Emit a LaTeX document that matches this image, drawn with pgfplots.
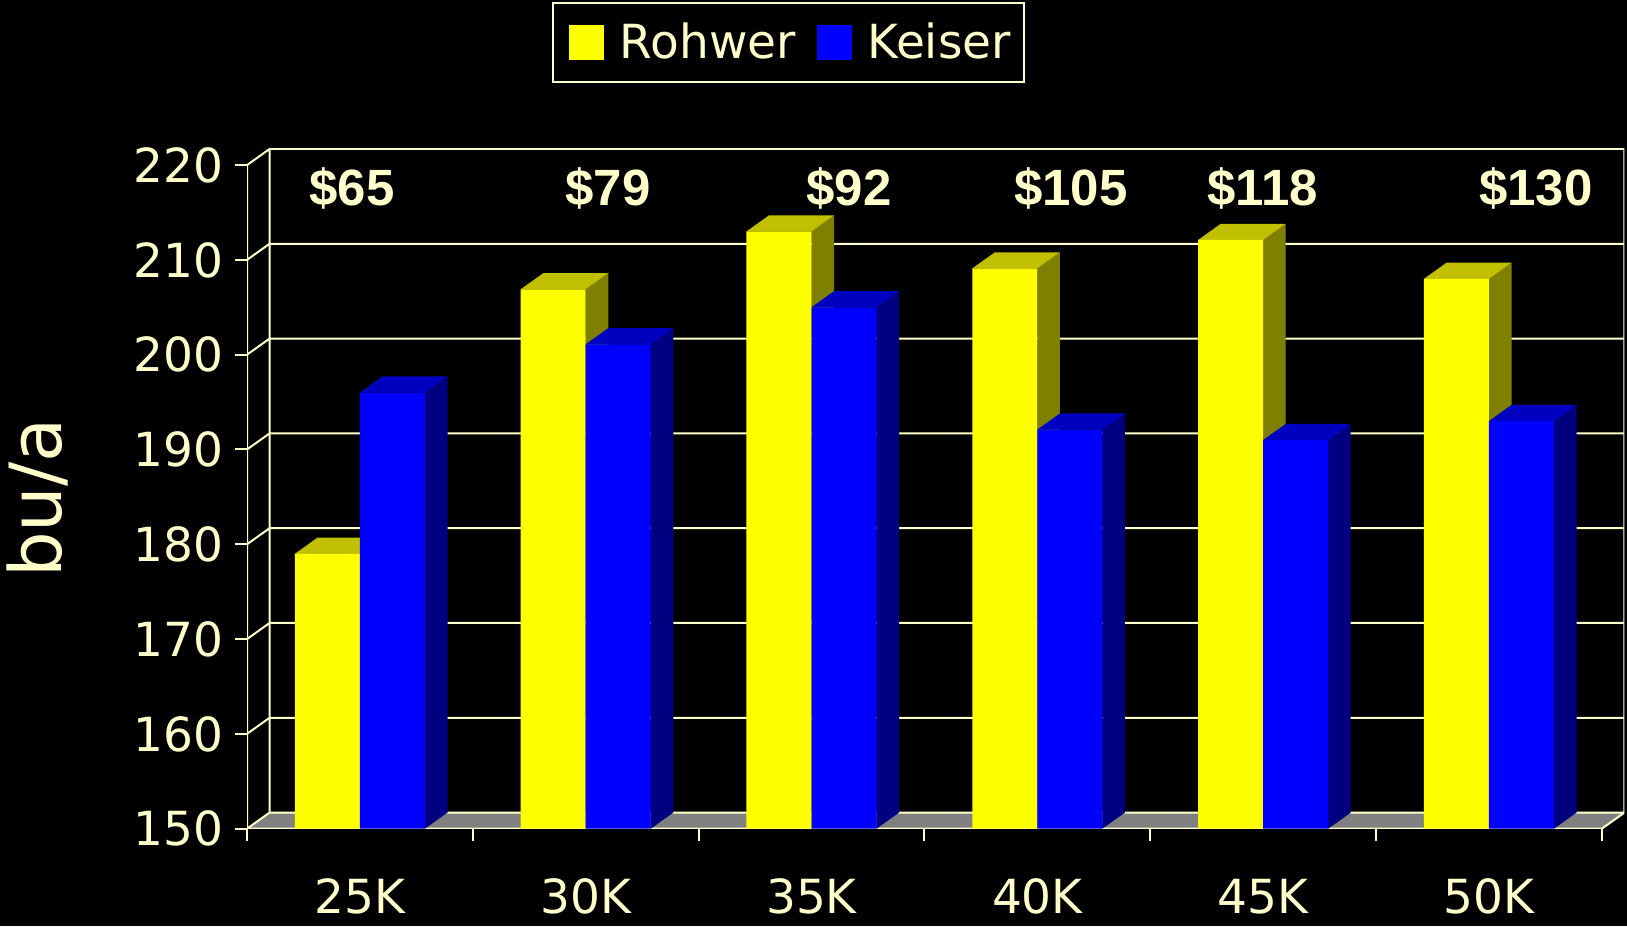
\documentclass[border=0pt]{standalone}
\usepackage{fontspec}
\setmainfont{DejaVu Sans}
\newfontfamily\arialfont{Liberation Sans}
\usepackage{pgfplots}
\usepackage{pgfplotstable}
\pgfplotsset{compat=1.18}

\definecolor{cream}{HTML}{FFFFCC}
\definecolor{yfront}{HTML}{FFFF00}
\definecolor{ytop}{HTML}{C0C000}
\definecolor{yside}{HTML}{808000}
\definecolor{bfront}{HTML}{0000FF}
\definecolor{btop}{HTML}{0000C0}
\definecolor{bside}{HTML}{000080}
\definecolor{floorgray}{HTML}{808080}

% 3D faces of a bar (bar width 0.288 x-units = 32.52pt, depth 0.1 x-units = 11.29pt, 1.7 y-units = 8.06pt)
\pgfdeclareplotmark{topface}{%
  \pgfpathmoveto{\pgfpoint{-16.26pt}{0pt}}%
  \pgfpathlineto{\pgfpoint{-4.97pt}{8.06pt}}%
  \pgfpathlineto{\pgfpoint{27.55pt}{8.06pt}}%
  \pgfpathlineto{\pgfpoint{16.26pt}{0pt}}%
  \pgfpathclose\pgfusepathqfill}
\pgfdeclareplotmark{sideface}{%
  \pgfpathmoveto{\pgfpoint{16.26pt}{0pt}}%
  \pgfpathlineto{\pgfpoint{27.55pt}{8.06pt}}%
  \pgfpathlineto{\pgfpoint{27.55pt}{8.06pt-\hh*4.74pt}}%
  \pgfpathlineto{\pgfpoint{16.26pt}{-\hh*4.74pt}}%
  \pgfpathclose\pgfusepathqfill}

\pgfplotstableread{
x    R      K
0.5  179.0  196.0
1.5  206.9  201.1
2.5  213.0  205.0
3.5  209.1  192.1
4.5  212.1  191.0
5.5  208.0  193.0
}\data

\begin{document}
\begin{tikzpicture}
\useasboundingbox (0,0) rectangle (813.5pt,463pt);
\fill[black] (0,0) rectangle (813.5pt,463pt);
\begin{axis}[
  at={(123.5pt,48.65pt)}, anchor=south west,
  scale only axis, width=688.7pt, height=339.86pt,
  xmin=0, xmax=6.1, ymin=150, ymax=221.7,
  axis line style={draw=none},
  clip marker paths=true,
  tick align=outside,
  major tick length=6pt,
  ytick={150,160,...,220},
  ytick pos=left, xtick pos=bottom,
  ytick style={draw=cream, line width=1pt},
  xtick={0,1,...,6},
  xticklabels={25K,30K,35K,40K,45K,50K,{}},
  xtick style={draw=cream, line width=1pt},
  tick label style={font=\fontsize{23.5}{28}\selectfont, text=cream},
  yticklabel style={anchor=east, inner sep=0pt, xshift=-5.5pt},
  xticklabel style={anchor=north, inner sep=0pt, yshift=-19pt, xshift=56.45pt},
  /pgf/number format/assume math mode=true,
  ylabel={bu/a},
  ylabel style={at={(axis description cs:-0.152,0.4865)}, anchor=center,
    font=\fontsize{36}{42}\selectfont, text=cream},
  legend style={at={(axis description cs:0.2214,1.2163)}, anchor=north west,
    draw=cream, line width=1pt, fill=black, text=cream,
    font=\fontsize{23.5}{28}\selectfont,
    inner xsep=2.7pt, inner ysep=6pt, nodes={inner sep=4pt},
    /tikz/every even column/.append style={column sep=1.1pt}},
  legend columns=2,
  legend image code/.code={\path (0pt,0pt) (26.8pt,0pt); \fill[#1, draw=none] (5.3pt,-8.8pt) rectangle (22.8pt,8.8pt);},
]
% back wall, floor and front edges
\fill[floorgray] (axis cs:0,150) -- (axis cs:0.1,151.7) -- (axis cs:6.1,151.7) -- (axis cs:6,150) -- cycle;
\draw[cream, line width=1pt]
  (axis cs:0.1,151.7) -- (axis cs:0.1,221.7) -- (axis cs:6.1,221.7) -- (axis cs:6.1,151.7) -- (axis cs:0.1,151.7)
  (axis cs:0.1,161.7) -- (axis cs:6.1,161.7)
  (axis cs:0.1,171.7) -- (axis cs:6.1,171.7)
  (axis cs:0.1,181.7) -- (axis cs:6.1,181.7)
  (axis cs:0.1,191.7) -- (axis cs:6.1,191.7)
  (axis cs:0.1,201.7) -- (axis cs:6.1,201.7)
  (axis cs:0.1,211.7) -- (axis cs:6.1,211.7)
  (axis cs:0,150) -- (axis cs:0.1,151.7)
  (axis cs:0,160) -- (axis cs:0.1,161.7)
  (axis cs:0,170) -- (axis cs:0.1,171.7)
  (axis cs:0,180) -- (axis cs:0.1,181.7)
  (axis cs:0,190) -- (axis cs:0.1,191.7)
  (axis cs:0,200) -- (axis cs:0.1,201.7)
  (axis cs:0,210) -- (axis cs:0.1,211.7)
  (axis cs:0,220) -- (axis cs:0.1,221.7)
  (axis cs:0,150) -- (axis cs:0,220)
  (axis cs:0,150) -- (axis cs:6,150) -- (axis cs:6.1,151.7);

% Rohwer
\addplot[forget plot, only marks, mark=sideface, mark options={fill=yside, draw=none},
  visualization depends on={\thisrow{R}-150 \as \hh}]
  table[x expr=\thisrow{x}-0.144, y=R] {\data};
\addplot[forget plot, only marks, mark=topface, mark options={fill=ytop, draw=none}]
  table[x expr=\thisrow{x}-0.144, y=R] {\data};
\addplot[ybar, bar width=0.288, bar shift=-0.144, fill=yfront, draw=none]
  table[x=x, y=R] {\data};
\addlegendentry{Rohwer}
% Keiser
\addplot[forget plot, only marks, mark=sideface, mark options={fill=bside, draw=none},
  visualization depends on={\thisrow{K}-150 \as \hh}]
  table[x expr=\thisrow{x}+0.144, y=K] {\data};
\addplot[forget plot, only marks, mark=topface, mark options={fill=btop, draw=none}]
  table[x expr=\thisrow{x}+0.144, y=K] {\data};
\addplot[ybar, bar width=0.288, bar shift=0.144, fill=bfront, draw=none]
  table[x=x, y=K] {\data};
\addlegendentry{Keiser}

% cost labels
\begin{scope}[every node/.style={font=\arialfont\bfseries\fontsize{25.5}{30}\selectfont, text=cream}]
\node at (axis cs:0.465,217.5) {\$65};
\node at (axis cs:1.599,217.5) {\$79};
\node at (axis cs:2.666,217.5) {\$92};
\node at (axis cs:3.649,217.5) {\$105};
\node at (axis cs:4.499,217.5) {\$118};
\node at (axis cs:5.708,217.5) {\$130};
\end{scope}
\end{axis}
\end{tikzpicture}
\end{document}
